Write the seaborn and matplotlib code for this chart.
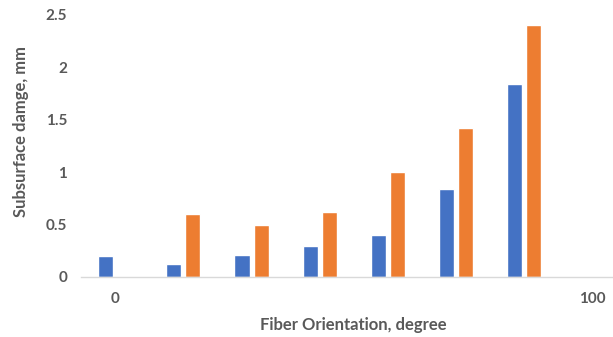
import matplotlib
matplotlib.use("Agg")
import matplotlib.pyplot as plt
import seaborn as sns
import pandas as pd

# Category slots along the fiber-orientation axis and their tick labels
positions = [0, 1, 2, 3, 4, 5, 6, 7]
tick_labels = ["0", "", "", "", "", "", "", "100"]

# Subsurface damage (mm) for the two series; None = no bar
series_a = [0.20, 0.12, 0.21, 0.30, 0.40, 0.84, 1.84, None]
series_b = [None, 0.60, 0.50, 0.62, 1.00, 1.42, 2.40, None]
series_names = ["Series 1", "Series 2"]
colors = ["#4472C4", "#ED7D31"]

rows = []
for name, vals in zip(series_names, [series_a, series_b]):
    for p, v in zip(positions, vals):
        if v is not None:
            rows.append({"pos": p, "series": name, "value": v})
df = pd.DataFrame(rows)

sns.set_style("white")
plt.rcParams["font.family"] = ["Lato", "DejaVu Sans"]
text_color = "#595959"

fig = plt.figure(figsize=(6.13, 3.37), dpi=100)
ax = fig.add_axes([81 / 613, 60 / 337, 532 / 613, 262 / 337])

sns.barplot(data=df, x="pos", y="value", hue="series", order=positions,
            hue_order=series_names, palette=colors, width=0.56, gap=0.21,
            saturation=1, legend=False, ax=ax, errorbar=None)

ax.set_xlim(-0.5, 7.3)
ax.set_ylim(0, 2.5)
ax.set_yticks([0, 0.5, 1, 1.5, 2, 2.5])
ax.set_yticklabels(["0", "0.5", "1", "1.5", "2", "2.5"])
ax.set_xticks(positions)
ax.set_xticklabels(tick_labels)

for s in ["top", "right", "left"]:
    ax.spines[s].set_visible(False)
ax.spines["bottom"].set_color("#D9D9D9")
ax.spines["bottom"].set_linewidth(1.0)

ax.tick_params(axis="both", length=0, labelsize=11, labelcolor=text_color)
ax.tick_params(axis="y", pad=10)
ax.tick_params(axis="x", pad=11)
for lbl in ax.get_xticklabels() + ax.get_yticklabels():
    lbl.set_fontweight("bold")

ax.set_xlabel("Fiber Orientation, degree", fontsize=12, fontweight="bold",
              color=text_color)
ax.set_ylabel("Subsurface damge, mm", fontsize=12, fontweight="bold",
              color=text_color)
ax.xaxis.set_label_coords(0.511, -0.183)
ax.xaxis.label.set_va("center")
ax.yaxis.set_label_coords(-0.113, 0.557)
ax.yaxis.label.set_va("center")

fig.savefig("out.png", dpi=100)
